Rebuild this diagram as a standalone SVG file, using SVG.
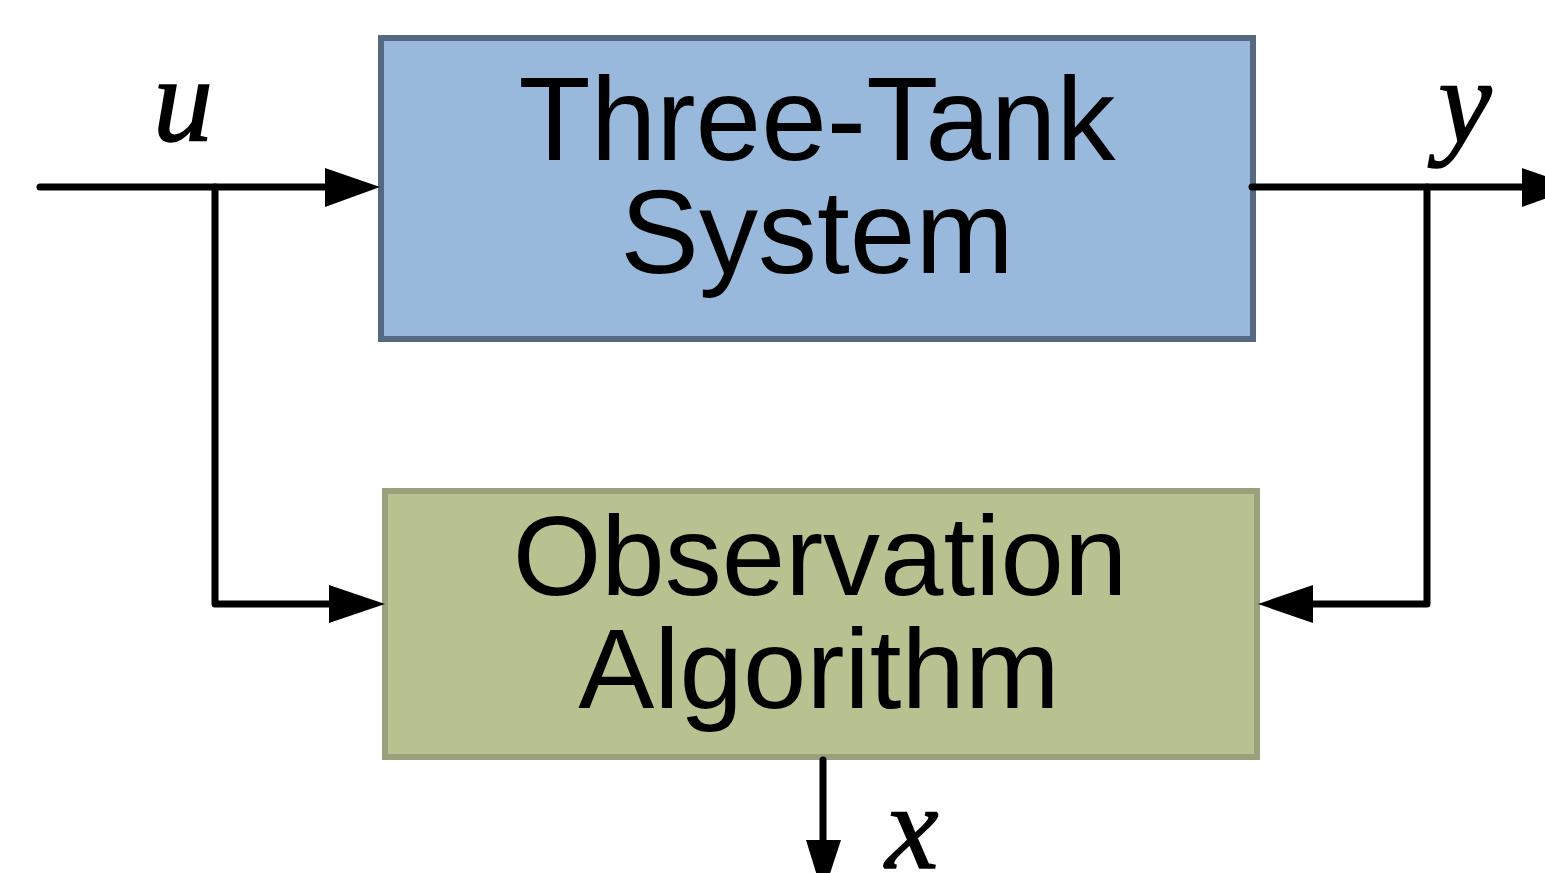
<svg xmlns="http://www.w3.org/2000/svg" width="1545" height="873" viewBox="0 0 1545 873">
<style>
.box1{fill:#98b9dc;stroke:#556a80;stroke-width:6}
.box2{fill:#b8c291;stroke:#98a07c;stroke-width:6}
.t{font-family:"Liberation Sans",Arial,sans-serif;font-size:118px;fill:#000;text-anchor:middle}
.t2{font-size:114px}
.m{font-family:"Liberation Serif","Times New Roman",serif;font-style:italic;font-size:120px;fill:#000;stroke:#000;stroke-width:1.5;text-anchor:middle}
.w{fill:none;stroke:#000;stroke-width:7;stroke-linecap:round;stroke-linejoin:round}
.ah{fill:#000}
</style>
<rect width="1545" height="873" fill="#fff"/>
<g id="system">
<rect class="box1" x="381" y="38" width="872" height="301"/>
<text class="t" x="817" y="160">Three-Tank</text>
<text class="t" x="817" y="273">System</text>
</g>
<g id="observer">
<rect class="box2" x="385" y="491" width="872" height="266"/>
<text class="t t2" x="820" y="595">Observation</text>
<text class="t t2" x="819" y="708">Algorithm</text>
</g>
<g id="connectors">
<path class="w" d="M40,187 H330"/>
<polygon class="ah" points="325,168 380,187 325,207"/>
<path class="w" d="M215,187 V604 H335"/>
<polygon class="ah" points="329,585 385,604 329,623"/>
<path class="w" d="M1252,187 H1525"/>
<polygon class="ah" points="1522,168 1577,187 1522,207"/>
<path class="w" d="M1427,187 V604 H1308"/>
<polygon class="ah" points="1313,585 1258,604 1313,623"/>
<path class="w" d="M823,760 V845"/>
<polygon class="ah" points="806,840 823,895 841,840"/>
</g>
<g id="labels">
<text class="m" x="183" y="141">u</text>
<text class="m" x="1465" y="142">y</text>
<text class="m" x="912" y="868">x</text>
</g>
</svg>
